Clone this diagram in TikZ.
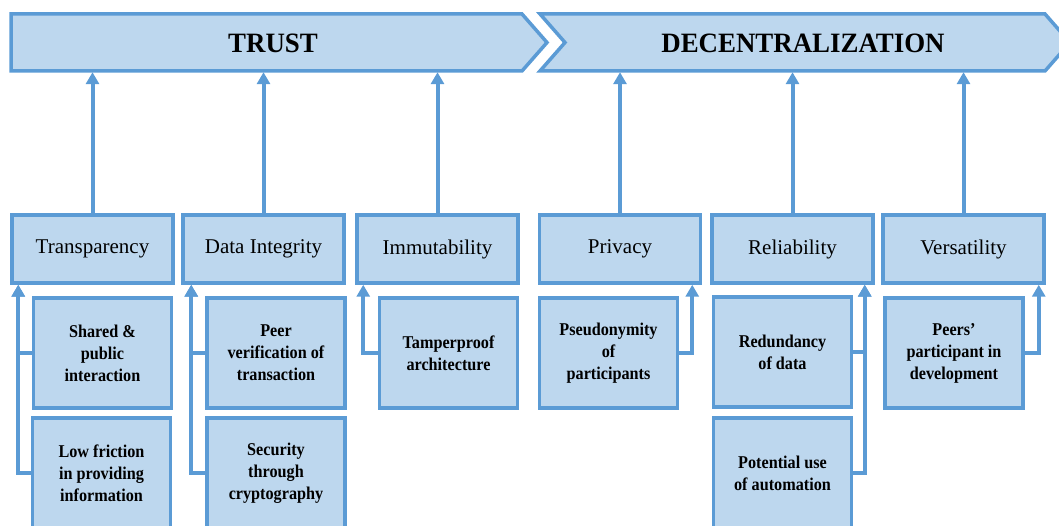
\documentclass[tikz,border=0pt]{standalone}
\usepackage{fontspec}
\setmainfont{Liberation Serif}
\usetikzlibrary{arrows.meta}
\definecolor{lineblue}{RGB}{91,155,213}
\definecolor{fillblue}{RGB}{189,215,238}
\tikzset{
  catbox/.style={draw=lineblue,fill=fillblue,line width=3.5pt,minimum width=161pt,
    minimum height=68pt,inner sep=0pt,font=\fontsize{21}{24}\selectfont},
  subbox/.style={draw=lineblue,fill=fillblue,line width=3.5pt,minimum width=138pt,
    minimum height=110pt,inner sep=0pt,align=center,
    font=\bfseries\fontsize{18}{22}\selectfont\addfontfeature{FakeStretch=0.9}},
  link/.style={draw=lineblue,line width=4pt,-{Triangle[width=13pt,length=12pt]}},
  bannertext/.style={font=\bfseries\fontsize{28}{30}\selectfont\addfontfeature{FakeStretch=0.96},
    minimum height=57pt,inner sep=0pt}
}

\begin{document}
\begin{tikzpicture}[x=1pt,y=-1pt]
    \useasboundingbox (0,0) rectangle (1059,526);
    \clip (0,0) rectangle (1059,526);
    % banners
    \filldraw[draw=lineblue,fill=fillblue,line width=3.5pt]
      (11,14) -- (522,14) -- (547,42.5) -- (522,71) -- (11,71) -- cycle;
    \filldraw[draw=lineblue,fill=fillblue,line width=3.5pt]
      (540,14) -- (1045,14) -- (1070,42.5) -- (1045,71) -- (540,71) -- (565,42.5) -- cycle;
    \node[bannertext] (trust) at (273,43.5) {TRUST};
    \node[bannertext] (decent) at (803,43.5) {DECENTRALIZATION};
    % categories
    \foreach \n/\x/\t in {1/92.5/Transparency,2/263.5/Data Integrity,3/437.5/Immutability,
      4/620/Privacy,5/792.5/Reliability,6/963.5/Versatility}{
      \node[catbox] (c\n) at (\x,249) {\t};
    }
    \foreach \n in {1,2,3}
      \draw[link] (c\n.north) -- (c\n.north |- trust.south);
    \foreach \n in {4,5,6}
      \draw[link] (c\n.north) -- (c\n.north |- decent.south);
    % sub boxes
    \node[subbox] (s1a) at (102.5,353) {Shared \&\\public\\interaction};
    \node[subbox] (s1b) at (101.5,473) {Low friction\\in providing\\information};
    \node[subbox] (s2a) at (276,353) {Peer\\verification of\\transaction};
    \node[subbox] (s2b) at (276,473) {Security\\through\\cryptography};
    \node[subbox] (s3) at (448.5,353) {Tamperproof\\architecture};
    \node[subbox] (s4) at (608.5,353) {Pseudonymity\\of\\participants};
    \node[subbox] (s5a) at (782.5,352) {Redundancy\\of data};
    \node[subbox] (s5b) at (782.5,473) {Potential use\\of automation};
    \node[subbox] (s6) at (954,353) {Peers’\\participant in\\development};
    % links to categories
    \foreach \s in {s1a,s1b}
      \draw[link] (\s.west) -| ([xshift=8pt]c1.south west);
    \foreach \s in {s2a,s2b}
      \draw[link] (\s.west) -| ([xshift=10pt]c2.south west);
    \draw[link] (s3.west) -| ([xshift=8pt]c3.south west);
    \draw[link] (s4.east) -| ([xshift=-10pt]c4.south east);
    \foreach \s in {s5a,s5b}
      \draw[link] (\s.east) -| ([xshift=-10pt]c5.south east);
    \draw[link] (s6.east) -| ([xshift=-7pt]c6.south east);
\end{tikzpicture}
\end{document}
